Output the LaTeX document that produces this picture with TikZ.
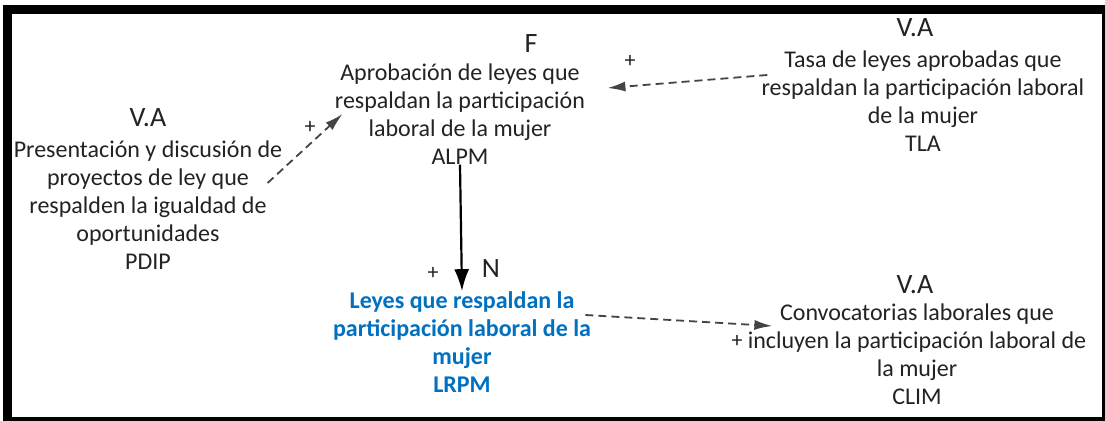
\documentclass[tikz,border=0pt]{standalone}
\usepackage{fontspec}
\setmainfont{Carlito}
\usetikzlibrary{arrows.meta}
\definecolor{officeblue}{RGB}{0, 112, 192}
\definecolor{inkgray}{RGB}{35, 35, 35}
\tikzset{
  vartext/.style  = {align=center, inner sep=0pt, text=inkgray, font=\fontsize{12}{14}\selectfont},
  keytext/.style  = {inner sep=0pt, text=inkgray, font=\fontsize{14}{16}\selectfont},
  signtext/.style = {inner sep=0pt, text=inkgray, font=\fontsize{11}{12}\selectfont},
  dasharrow/.style = {draw=inkgray!85, line width=0.9pt, dash pattern=on 4pt off 2.5pt, -{Latex[length=9pt, width=5pt]}},
  mainarrow/.style = {draw=black, line width=1.1pt, -{Latex[length=11pt, width=7.5pt]}}
}

\begin{document}
\begin{tikzpicture}[x=0.5pt, y=-0.5pt]
            \useasboundingbox                              (0, 0) rectangle (1105, 421);
            \fill[black]                                   (3, 5) rectangle (1105, 421);
            \fill[white]                                   (12, 14) rectangle (1102, 417);

            \node[vartext] (alpm) at (460, 114) {Aprobación de leyes que\\respaldan la participación\\laboral de la mujer\\ALPM};
            \node[keytext] (alpmkey) at (531, 44) {F};

            \node[vartext] (pdip) at (148, 205) {Presentación y discusión de\\proyectos de ley que\\respalden la igualdad de\\oportunidades\\PDIP};
            \node[keytext] (pdipkey) at (148, 118) {V.A};

            \node[vartext] (tla) at (923, 101) {Tasa de leyes aprobadas que\\respaldan la participación laboral\\de la mujer\\TLA};
            \node[keytext] (tlakey) at (915, 28) {V.A};

            \node[vartext, text=officeblue, font=\fontsize{12}{14}\selectfont\bfseries] (lrpm) at (462, 342) {Leyes que respaldan la\\participación laboral de la\\mujer\\LRPM};
            \node[keytext] (lrpmkey) at (491, 269) {N};

            \node[vartext] (clim) at (917, 354) {Convocatorias laborales que\\incluyen la participación laboral de\\la mujer\\CLIM};
            \node[keytext] (climkey) at (915, 285) {V.A};

            \draw[dasharrow] ([shift={(-15,-22)}]pdip.east) -- ([shift={(8,0)}]alpm.west);
            \node[signtext] (pdipsign) at (310, 127) {+};
            \draw[dasharrow] ([shift={(6,-26)}]tla.west)    -- ([shift={(22,-26)}]alpm.east);
            \node[signtext] (tlasign)  at (630, 61)  {+};
            \draw[mainarrow] (alpm.south) -- (lrpm.north);
            \node[signtext] (alpmsign) at (433, 273) {+};
            \draw[dasharrow] ([shift={(-6,-27)}]lrpm.east)  -- ([shift={(25,-28)}]clim.west);
            \node[signtext] (lrpmsign) at (737, 341) {+};
\end{tikzpicture}
\end{document}
